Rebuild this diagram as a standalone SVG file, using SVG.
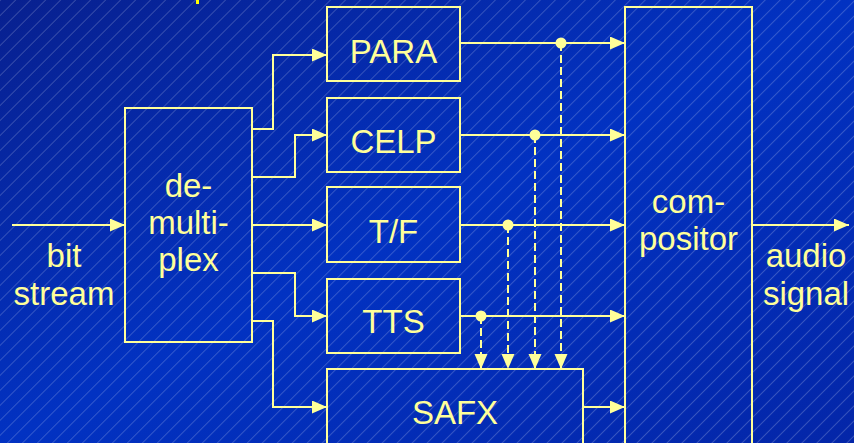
<svg xmlns="http://www.w3.org/2000/svg" width="854" height="443" viewBox="0 0 854 443">
<defs>
<linearGradient id="bg" x1="0" y1="0" x2="1" y2="1">
<stop offset="0" stop-color="#08208f"/>
<stop offset="0.5" stop-color="#0232c2"/>
<stop offset="1" stop-color="#0426a8"/>
</linearGradient>
<pattern id="hatch" patternUnits="userSpaceOnUse" width="10.6" height="20" patternTransform="rotate(45)">
<line x1="0.5" y1="0" x2="0.5" y2="20" stroke="#ffffff" stroke-opacity="0.25" stroke-width="0.8"/>
</pattern>
<marker id="arr" markerUnits="userSpaceOnUse" markerWidth="16" markerHeight="14" refX="15" refY="6.5" orient="auto">
<path d="M0,0 L15,6.5 L0,13 z" fill="#ffff99"/>
</marker>
<style>
.box{fill:none;stroke:#ffff99;stroke-width:2}
.ln{fill:none;stroke:#ffff99;stroke-width:2;marker-end:url(#arr)}
.ds{fill:none;stroke:#ffff99;stroke-width:2;stroke-dasharray:8 4;marker-end:url(#arr)}
.dot{fill:#ffff99}
text{font-family:"Liberation Sans",Arial,sans-serif;font-size:33px;fill:#ffff99;text-anchor:middle}
</style>
</defs>
<rect width="854" height="443" fill="url(#bg)"/>
<rect width="854" height="443" fill="url(#hatch)"/>
<rect x="196" y="0" width="3" height="4" fill="#ffff00"/>

<g id="connectors">
<path class="ln" d="M12,225 H125"/>
<path class="ln" d="M252,129 H273 V55 H327"/>
<path class="ln" d="M252,177 H295 V135 H327"/>
<path class="ln" d="M252,225 H327"/>
<path class="ln" d="M252,273 H295 V316 H327"/>
<path class="ln" d="M252,321 H273 V407 H327"/>
<path class="ln" d="M460,43 H625"/>
<path class="ln" d="M460,135 H625"/>
<path class="ln" d="M460,225 H625"/>
<path class="ln" d="M460,316 H625"/>
<path class="ln" d="M583,407 H625"/>
<path class="ln" d="M752,225 H849"/>
<path class="ds" d="M561,43 V369"/>
<path class="ds" d="M535,135 V369"/>
<path class="ds" d="M508,225 V369"/>
<path class="ds" d="M481,316 V369"/>
<circle class="dot" cx="561" cy="43" r="5.5"/>
<circle class="dot" cx="535" cy="135" r="5.5"/>
<circle class="dot" cx="508" cy="225" r="5.5"/>
<circle class="dot" cx="481" cy="316" r="5.5"/>
</g>

<g id="input">
<text x="64" y="267">bit</text>
<text x="64" y="305">stream</text>
</g>
<g id="demux">
<rect class="box" x="125" y="108" width="127" height="234"/>
<text x="188.5" y="197">de-</text>
<text x="188.5" y="234">multi-</text>
<text x="188.5" y="271">plex</text>
</g>
<g id="para">
<rect class="box" x="327" y="7" width="133" height="74"/>
<text x="393.5" y="63">PARA</text>
</g>
<g id="celp">
<rect class="box" x="327" y="98" width="133" height="74"/>
<text x="393.5" y="153">CELP</text>
</g>
<g id="tf">
<rect class="box" x="327" y="187" width="133" height="75"/>
<text x="393.5" y="243">T/F</text>
</g>
<g id="tts">
<rect class="box" x="327" y="279" width="133" height="74"/>
<text x="393.5" y="333">TTS</text>
</g>
<g id="safx">
<rect class="box" x="327" y="369" width="256" height="90"/>
<text x="455" y="424">SAFX</text>
</g>
<g id="compositor">
<rect class="box" x="625" y="7" width="127" height="460"/>
<text x="688.5" y="213">com-</text>
<text x="688.5" y="250">positor</text>
</g>
<g id="output">
<text x="806" y="267">audio</text>
<text x="806" y="305">signal</text>
</g>
</svg>
